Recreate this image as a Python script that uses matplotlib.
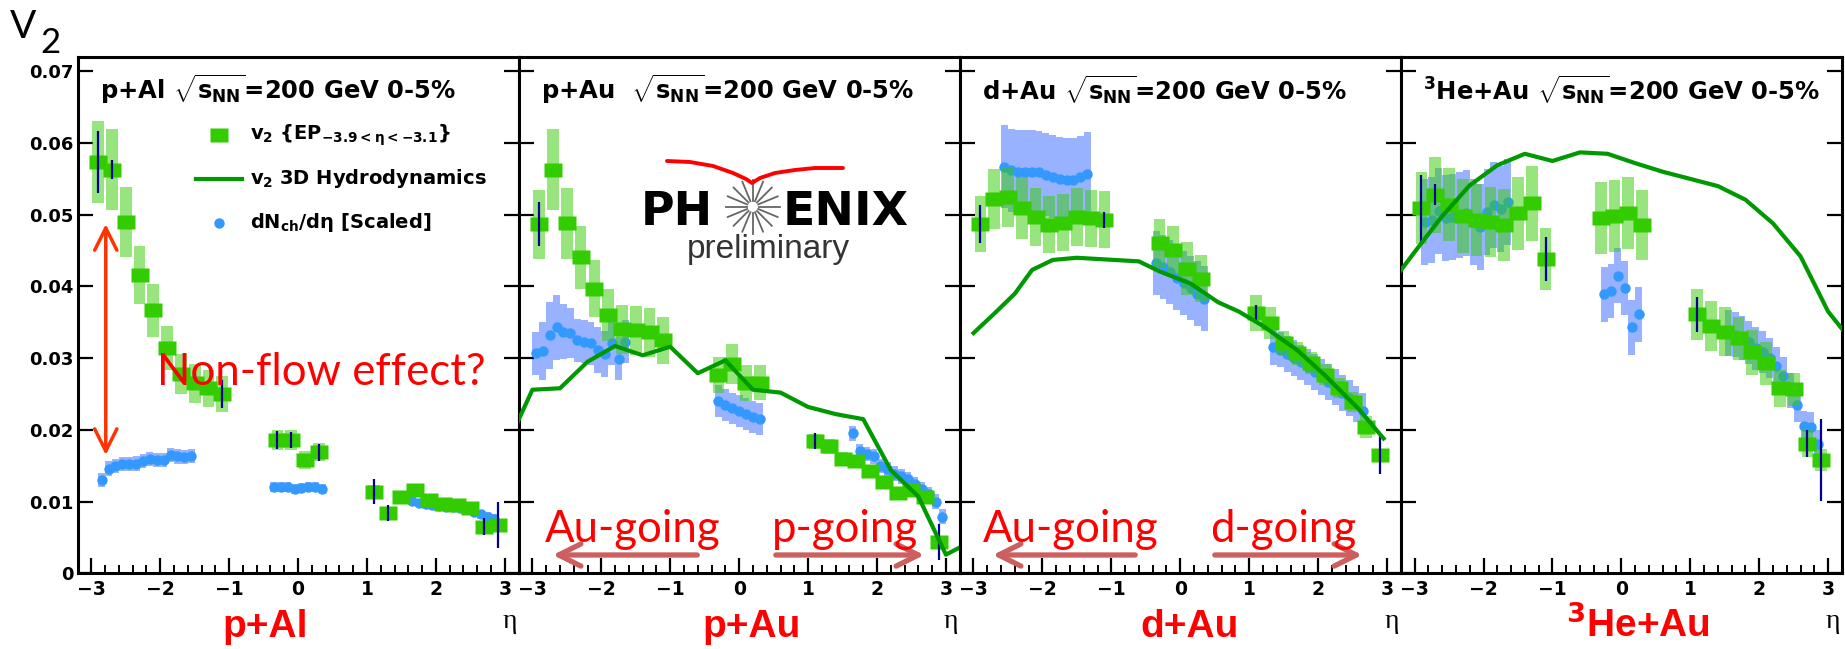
import numpy as np
import matplotlib
matplotlib.use("Agg")
import matplotlib.pyplot as plt
from matplotlib.ticker import MultipleLocator, FuncFormatter
from matplotlib.lines import Line2D
from matplotlib.patches import FancyArrowPatch

plt.rcParams['font.family'] = ['DejaVu Sans']
plt.rcParams['font.weight'] = 'bold'
plt.rcParams['mathtext.fontset'] = 'custom'
plt.rcParams['mathtext.rm'] = 'DejaVu Sans:bold'
plt.rcParams['mathtext.it'] = 'DejaVu Sans:bold'
plt.rcParams['mathtext.bf'] = 'DejaVu Sans:bold'

# ---- data -------------------------------------------------------------
systems = ["p+Al", "p+Au", "d+Au", "$^{3}$He+Au"]
titles = [r"p+Al $\sqrt{s_{NN}}$=200 GeV 0-5%",
          r"p+Au  $\sqrt{s_{NN}}$=200 GeV 0-5%",
          r"d+Au $\sqrt{s_{NN}}$=200 GeV 0-5%",
          r"$^{3}$He+Au $\sqrt{s_{NN}}$=200 GeV 0-5%"]

eta_v2 = [-2.9, -2.7, -2.5, -2.3, -2.1, -1.9, -1.7, -1.5, -1.3, -1.1,
          -0.3, -0.1, 0.1, 0.3,
          1.1, 1.3, 1.5, 1.7, 1.9, 2.1, 2.3, 2.5, 2.7, 2.9]

# v2{EP} : value, systematic, statistical (0 = hidden by the marker)
v2_pal = [0.0574, 0.0563, 0.0490, 0.0416, 0.0367, 0.0314, 0.0278, 0.0265, 0.0258, 0.0250,
          0.0186, 0.0186, 0.0158, 0.0169,
          0.0114, 0.0084, 0.0106, 0.0116, 0.0102, 0.0096, 0.0095, 0.0091, 0.0065, 0.0067]
sys_pal = [0.0057, 0.0056, 0.0049, 0.0041, 0.0037, 0.0031, 0.0028, 0.0027, 0.0026, 0.0025,
           0.0014, 0.0014, 0.0012, 0.0013,
           0.0009, 0.0007, 0.0008, 0.0009, 0.0008, 0.0008, 0.0008, 0.0007, 0.0005, 0.0005]
stat_pal = [0.0043, 0.0013, 0, 0, 0, 0, 0, 0, 0, 0.0019,
            0.0012, 0.0011, 0, 0.0012,
            0.0018, 0.0011, 0, 0, 0, 0, 0, 0, 0.0012, 0.0032]

v2_pau = [0.0487, 0.0563, 0.0488, 0.0441, 0.0397, 0.0360, 0.0340, 0.0339, 0.0336, 0.0325,
          0.0277, 0.0292, 0.0265, 0.0266,
          0.0184, 0.0177, 0.0160, 0.0156, 0.0142, 0.0128, 0.0112, 0.0116, 0.0107, 0.0044]
sys_pau = [0.0048, 0.0056, 0.0049, 0.0044, 0.0040, 0.0036, 0.0034, 0.0034, 0.0034, 0.0033,
           0.0025, 0.0028, 0.0025, 0.0025,
           0.0010, 0.0010, 0.0009, 0.0009, 0.0008, 0.0008, 0.0007, 0.0007, 0.0007, 0.0005]
stat_pau = [0.0031, 0, 0, 0, 0, 0, 0, 0, 0, 0,
            0, 0, 0, 0,
            0.0011, 0, 0, 0, 0, 0, 0, 0, 0, 0.0025]

v2_dau = [0.0487, 0.0522, 0.0525, 0.0509, 0.0497, 0.0486, 0.0489, 0.0497, 0.0495, 0.0493,
          0.0460, 0.0451, 0.0425, 0.0411,
          0.0363, 0.0349, 0.0321, 0.0307, 0.0293, 0.0277, 0.0258, 0.0239, 0.0204, 0.0165]
sys_dau = [0.0039, 0.0042, 0.0042, 0.0043, 0.0040, 0.0040, 0.0040, 0.0040, 0.0040, 0.0040,
           0.0034, 0.0033, 0.0037, 0.0033,
           0.0025, 0.0022, 0.0017, 0.0016, 0.0015, 0.0015, 0.0014, 0.0014, 0.0015, 0.0008]
stat_dau = [0.0027, 0, 0, 0, 0, 0, 0, 0, 0, 0.0011,
            0, 0, 0, 0,
            0.0011, 0, 0, 0, 0, 0, 0, 0, 0, 0.0026]

v2_heau = [0.0509, 0.0528, 0.0514, 0.0498, 0.0493, 0.0490, 0.0486, 0.0502, 0.0516, 0.0438,
           0.0495, 0.0498, 0.0502, 0.0486,
           0.0361, 0.0345, 0.0337, 0.0328, 0.0308, 0.0293, 0.0258, 0.0257, 0.0181, 0.0158]
sys_heau = [0.0050, 0.0053, 0.0051, 0.0052, 0.0050, 0.0049, 0.0050, 0.0051, 0.0052, 0.0043,
            0.0050, 0.0050, 0.0050, 0.0049,
            0.0036, 0.0035, 0.0034, 0.0030, 0.0031, 0.0030, 0.0026, 0.0023, 0.0019, 0.0016]
stat_heau = [0.0047, 0.0015, 0, 0, 0, 0, 0, 0, 0, 0.0031,
             0, 0, 0, 0,
             0.0025, 0, 0, 0, 0, 0, 0, 0, 0.0019, 0.0057]

# dNch/deta (scaled) : eta, value, systematic
eta_dn_pal = [-2.85, -2.75, -2.65, -2.55, -2.45, -2.35, -2.25, -2.15, -2.05, -1.95, -1.85, -1.75, -1.65, -1.55,
              -0.35, -0.25, -0.15, -0.05, 0.05, 0.15, 0.25, 0.35,
              1.65, 1.75, 1.85, 1.95, 2.05, 2.15, 2.25, 2.35, 2.45, 2.55, 2.65, 2.75, 2.85]
dn_pal = [0.0130, 0.0146, 0.0150, 0.0152, 0.0152, 0.0153, 0.0157, 0.0159, 0.0158, 0.0158, 0.0165, 0.0163, 0.0162, 0.0164,
          0.0121, 0.0121, 0.0120, 0.0118, 0.0119, 0.0120, 0.0120, 0.0118,
          0.0101, 0.0098, 0.0096, 0.0095, 0.0094, 0.0093, 0.0092, 0.0091, 0.0089, 0.0086, 0.0082, 0.0079, 0.0076]
dn_sys_pal = [0.0010] * 14 + [0.0007] * 8 + [0.0006] * 13

eta_dn_pau = [-2.95, -2.85, -2.75, -2.65, -2.55, -2.45, -2.35, -2.25, -2.15, -2.05, -1.95, -1.85, -1.75, -1.65,
              -0.3, -0.2, -0.1, 0.0, 0.1, 0.2, 0.3,
              1.65, 1.75, 1.85, 1.95, 2.05, 2.15, 2.25, 2.35, 2.45, 2.55, 2.65, 2.75, 2.85, 2.95]
dn_pau = [0.0307, 0.0310, 0.0332, 0.0343, 0.0337, 0.0335, 0.0325, 0.0323, 0.0321, 0.0311, 0.0306, 0.0321, 0.0299, 0.0323,
          0.0240, 0.0235, 0.0230, 0.0226, 0.0222, 0.0218, 0.0215,
          0.0195, 0.0170, 0.0166, 0.0163, 0.0150, 0.0145, 0.0139, 0.0135, 0.0131, 0.0124, 0.0117, 0.0110, 0.0100, 0.0079]
dn_sys_pau = [0.0030, 0.0040, 0.0047, 0.0045, 0.0038, 0.0035, 0.0030, 0.0030, 0.0030, 0.0032, 0.0032, 0.0030, 0.0030, 0.0030,
              0.0022, 0.0022, 0.0022, 0.0022, 0.0022, 0.0022, 0.0022] + [0.0010] * 14

eta_dn_dau = [-2.55, -2.45, -2.35, -2.25, -2.15, -2.05, -1.95, -1.85, -1.75, -1.65, -1.55, -1.45, -1.35,
              -0.35, -0.25, -0.15, -0.05, 0.05, 0.15, 0.25, 0.35,
              1.35, 1.45, 1.55, 1.65, 1.75, 1.85, 1.95, 2.05, 2.15, 2.25, 2.35, 2.45, 2.55, 2.65]
dn_dau = [0.0567, 0.0562, 0.0560, 0.0560, 0.0560, 0.0559, 0.0556, 0.0553, 0.0550, 0.0549, 0.0549, 0.0552, 0.0557,
          0.0433, 0.0427, 0.0420, 0.0412, 0.0405, 0.0398, 0.0390, 0.0383,
          0.0316, 0.0312, 0.0306, 0.0300, 0.0294, 0.0288, 0.0281, 0.0274, 0.0267, 0.0260, 0.0252, 0.0245, 0.0236, 0.0226]
dn_sys_dau = [0.0058] * 13 + [0.0045] * 8 + [0.0025] * 14

eta_dn_heau = [-2.85, -2.75, -2.65, -2.55, -2.45, -2.35, -2.25, -2.15, -2.05, -1.95, -1.85, -1.75, -1.65,
               -0.25, -0.15, -0.05, 0.05, 0.15, 0.25,
               1.55, 1.65, 1.75, 1.85, 1.95, 2.05, 2.15, 2.25, 2.35, 2.45, 2.55, 2.65, 2.75, 2.85]
dn_heau = [0.0490, 0.0493, 0.0505, 0.0495, 0.0497, 0.0500, 0.0502, 0.0490, 0.0483, 0.0504, 0.0514, 0.0508, 0.0518,
           0.0389, 0.0394, 0.0415, 0.0398, 0.0343, 0.0361,
           0.0335, 0.0333, 0.0328, 0.0322, 0.0314, 0.0309, 0.0300, 0.0289, 0.0275, 0.0255, 0.0235, 0.0205, 0.0204, 0.0180]
dn_sys_heau = [0.0060] * 13 + [0.0038] * 6 + [0.0032, 0.0032, 0.0031, 0.0030, 0.0030, 0.0029, 0.0028,
                                              0.0027, 0.0026, 0.0025, 0.0024, 0.0022, 0.0021, 0.0020]

# 3D hydrodynamics curves
eta_hydro = [-3.4, -3.0, -2.6, -2.2, -1.8, -1.4, -1.0, -0.6, -0.2, 0.2, 0.6, 1.0, 1.4, 1.8, 2.2, 2.6, 3.0, 3.4]
hydro_pau = [0.0172, 0.0256, 0.0258, 0.0295, 0.0317, 0.0304, 0.0316, 0.0279, 0.0297,
             0.0256, 0.0252, 0.0232, 0.0222, 0.0215, 0.0144, 0.0107, 0.0026, 0.0046]
hydro_heau = [0.0397, 0.0448, 0.0498, 0.0541, 0.0569, 0.0585, 0.0575, 0.0587, 0.0585,
              0.0572, 0.0560, 0.0550, 0.0540, 0.0521, 0.0488, 0.0442, 0.0365, 0.0317]
eta_hydro_dau = [-3.0, -2.7, -2.4, -2.15, -1.85, -1.5, -0.6, -0.3, 0.15, 0.55, 0.85, 1.2, 1.7, 2.1, 2.6, 2.95]
hydro_dau = [0.0335, 0.0362, 0.0390, 0.0423, 0.0437, 0.0440, 0.0435, 0.0421, 0.0404,
             0.0378, 0.0365, 0.0345, 0.0311, 0.0276, 0.0228, 0.0188]

# ---- style ------------------------------------------------------------
GREEN = '#33cc00'
GREEN_BOX = (0.2, 0.8, 0.0)
BLUE = '#3399ff'
BLUE_BOX = (0.2, 0.4, 1.0)
NAVY = '#000099'
HYDRO = '#009900'
RED = '#ff0000'
RECT = [(-1, -0.8), (1, -0.8), (1, 0.8), (-1, 0.8)]

W, H = 1845, 649


def fx(px):
    return px / W


def fy(py):
    return 1 - py / H


def draw_panel(ax, v2, v2_sys, v2_stat, eta_dn, dn, dn_sys, eta_hy=None, hy=None):
    eta = np.array(eta_v2)
    v2 = np.array(v2)
    v2_sys = np.array(v2_sys)
    v2_stat = np.array(v2_stat)
    dn = np.array(dn)
    dn_sys = np.array(dn_sys)
    ax.bar(eta_dn, 2 * dn_sys, width=0.1, bottom=dn - dn_sys, color=BLUE_BOX,
           alpha=0.5, lw=0, zorder=1)
    ax.plot(eta_dn, dn, 'o', color=BLUE, ms=7.5, mec='none', zorder=2)
    ax.bar(eta, 2 * v2_sys, width=0.17, bottom=v2 - v2_sys, color=GREEN_BOX,
           alpha=0.5, lw=0, zorder=3)
    ax.plot(eta, v2, marker=RECT, ls='none', color=GREEN, ms=13, mec='none', zorder=4)
    shown = v2_stat > 0
    ax.errorbar(eta[shown], v2[shown], yerr=v2_stat[shown], fmt='none', ecolor=NAVY,
                elinewidth=1.6, capsize=0, zorder=5)
    if eta_hy is not None:
        ax.plot(eta_hy, hy, color=HYDRO, lw=3, zorder=6)


fig = plt.figure(figsize=(W / 100, H / 100), dpi=100)
axes = []
for k in range(4):
    ax = fig.add_axes([fx(77.5 + k * 441.1), fy(573.3), 441.1 / W, (573.3 - 57) / H])
    ax.set_xlim(-3.2, 3.2)
    ax.set_ylim(0, 0.072)
    ax.xaxis.set_major_locator(MultipleLocator(1))
    ax.xaxis.set_minor_locator(MultipleLocator(0.2))
    ax.yaxis.set_major_locator(MultipleLocator(0.01))
    ax.tick_params(axis='x', which='major', direction='in', length=11, width=1.6,
                   top=False, pad=5, labelsize=13.5)
    ax.tick_params(axis='x', which='minor', direction='in', length=5.5, width=1.4, top=False)
    ax.tick_params(axis='y', which='major', direction='in', length=11, width=1.6,
                   left=True, right=True, pad=3, labelsize=13)
    ax.xaxis.set_major_formatter(FuncFormatter(lambda v, _: f"{int(round(v))}".replace('-', '\u2212')))
    ax.yaxis.set_major_formatter(FuncFormatter(lambda v, _: '0' if abs(v) < 1e-9 else f"{v:.2f}"))
    if k > 0:
        ax.tick_params(axis='y', labelleft=False)
    for sp in ax.spines.values():
        sp.set_linewidth(2.2)
    ax.text(0.05, 0.918, titles[k], transform=ax.transAxes, fontsize=17.5,
            fontweight='bold', va='baseline', ha='left')
    axes.append(ax)

draw_panel(axes[0], v2_pal, sys_pal, stat_pal, eta_dn_pal, dn_pal, dn_sys_pal)
draw_panel(axes[1], v2_pau, sys_pau, stat_pau, eta_dn_pau, dn_pau, dn_sys_pau, eta_hydro, hydro_pau)
draw_panel(axes[2], v2_dau, sys_dau, stat_dau, eta_dn_dau, dn_dau, dn_sys_dau, eta_hydro_dau, hydro_dau)
draw_panel(axes[3], v2_heau, sys_heau, stat_heau, eta_dn_heau, dn_heau, dn_sys_heau, eta_hydro, hydro_heau)

# legend in first panel
ax = axes[0]
ax.plot([-1.15], [0.0611], marker=RECT, ls='none', color=GREEN, ms=13, mec='none')
ax.plot([-1.48, -0.82], [0.0550, 0.0550], color=HYDRO, lw=3)
ax.plot([-1.15], [0.0489], 'o', color=BLUE, ms=7.5, mec='none')
leg_kw = dict(fontsize=14, fontweight='bold', va='center', ha='left')
ax.text(-0.69, 0.0611, r"v$_2$ {EP$_{-3.9<\eta<-3.1}$}", **leg_kw)
ax.text(-0.69, 0.0550, r"v$_2$ 3D Hydrodynamics", **leg_kw)
ax.text(-0.69, 0.0489, r"dN$_{ch}$/d$\eta$ [Scaled]", **leg_kw)

# non-flow arrow and label
ax.annotate('', xy=(-2.79, 0.0487), xytext=(-2.79, 0.0165),
            arrowprops=dict(arrowstyle='<->,head_length=0.8,head_width=0.4',
                            color='#ff3300', lw=2.5, mutation_scale=20,
                            shrinkA=0, shrinkB=0))
fig.text(fx(157), fy(385), "Non-flow effect?", color=RED, fontsize=31.5,
         family='Lato', fontweight='normal', va='baseline', ha='left')

# beam direction arrows
going = [("Au-going", 545, 700, 550), ("p-going", 772, 773, 927),
         ("Au-going", 983, 1138, 990), ("d-going", 1210, 1212, 1365)]
for label, tx, x0, x1 in going:
    fig.text(fx(tx), fy(542), label, color=RED, fontsize=31.5, family='Lato',
             fontweight='normal', va='baseline', ha='left', zorder=10)
    fig.add_artist(FancyArrowPatch(
        (fx(x0), fy(555)), (fx(x1), fy(555)), transform=fig.transFigure,
        arrowstyle='->,head_length=0.8,head_width=0.4', mutation_scale=20,
        color='#cc6060', lw=3.8, zorder=9))

# PHENIX logo
fig.text(fx(713), fy(225), "PH", fontsize=33, fontweight='bold', va='baseline', ha='right')
fig.text(fx(783), fy(225), "ENIX", fontsize=34, fontweight='bold', va='baseline', ha='left')
fig.text(fx(687), fy(258), "preliminary", fontsize=24, family='Liberation Sans',
         fontweight='normal', color='#333333', va='baseline', ha='left')
cx, cy = 752.7, 206.7
for a in np.deg2rad(np.arange(0, 360, 22.5)):
    fig.add_artist(Line2D([fx(cx + 6 * np.cos(a)), fx(cx + 27 * np.cos(a))],
                          [fy(cy + 6 * np.sin(a)), fy(cy + 27 * np.sin(a))],
                          transform=fig.transFigure, color='#666666', lw=1.3))
swoosh_x = [667, 690, 713, 733, 746, 752, 760, 775, 795, 815, 843]
swoosh_y = [161, 162, 166, 173, 179, 183, 178, 173, 170, 168, 168]
fig.add_artist(Line2D([fx(v) for v in swoosh_x], [fy(v) for v in swoosh_y],
                      transform=fig.transFigure, color='#ff0000', lw=2.8,
                      solid_capstyle='round'))

# axis titles
fig.text(fx(10), fy(38), "V", fontsize=28, family='Lato', fontweight='normal',
         va='baseline', ha='left')
fig.text(fx(40), fy(53), "2", fontsize=25, family='Lato', fontweight='normal',
         va='baseline', ha='left')
for k in range(4):
    left = 77.5 + k * 441.1
    fig.text(fx(left + 432), fy(622), "η", fontsize=20, family='Liberation Serif',
             fontweight='normal', va='center', ha='center')

label_x = [265, 752, 1190, 1638]
for lab, x in zip(systems, label_x):
    fig.text(fx(x), fy(637), lab, fontsize=28, family='Liberation Sans',
             fontweight='bold', color=RED, va='baseline', ha='center')

fig.savefig("out.png", dpi=100)
